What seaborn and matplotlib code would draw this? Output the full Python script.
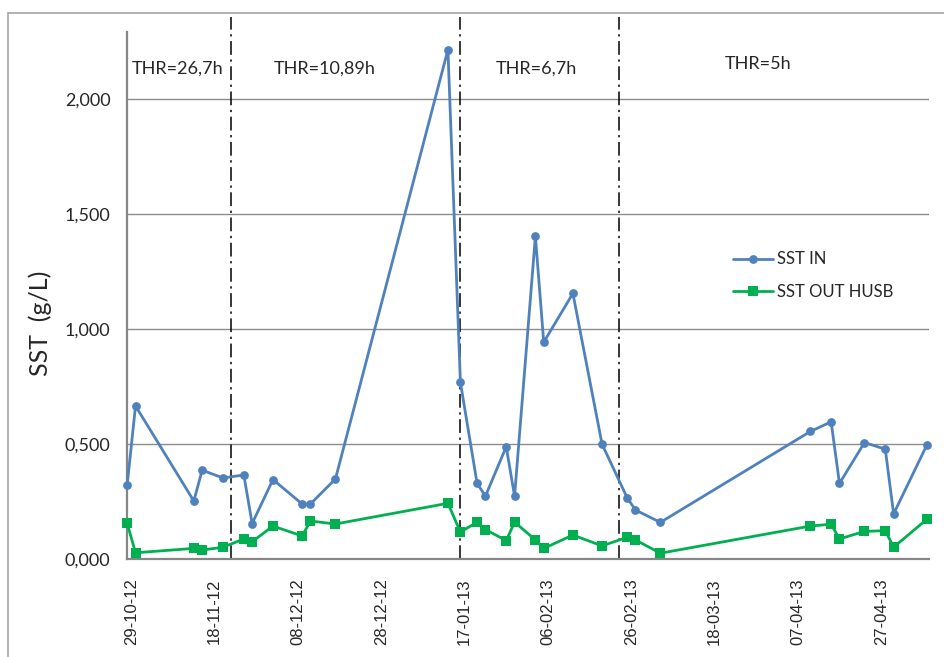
import matplotlib
matplotlib.use("Agg")
import matplotlib.pyplot as plt
import matplotlib.dates as mdates
from matplotlib.ticker import FuncFormatter
import seaborn as sns
import pandas as pd

# Sampling dates shared by both series
dates = [
    "2012-10-28", "2012-10-30", "2012-11-13", "2012-11-15", "2012-11-20",
    "2012-11-25", "2012-11-27", "2012-12-02", "2012-12-09", "2012-12-11",
    "2012-12-17", "2013-01-13", "2013-01-16", "2013-01-20", "2013-01-22",
    "2013-01-27", "2013-01-29", "2013-02-03", "2013-02-05", "2013-02-12",
    "2013-02-19", "2013-02-25", "2013-02-27", "2013-03-05", "2013-04-10",
    "2013-04-15", "2013-04-17", "2013-04-23", "2013-04-28", "2013-04-30",
    "2013-05-08",
]

# Suspended solids (g/L)
sst_in = [
    0.322, 0.665, 0.252, 0.386, 0.352, 0.365, 0.154, 0.345, 0.239, 0.239,
    0.348, 2.213, 0.767, 0.329, 0.273, 0.488, 0.273, 1.402, 0.942, 1.154,
    0.499, 0.267, 0.213, 0.159, 0.554, 0.596, 0.328, 0.506, 0.477, 0.196,
    0.496,
]
sst_out = [
    0.155, 0.027, 0.046, 0.039, 0.051, 0.087, 0.075, 0.143, 0.100, 0.165,
    0.152, 0.242, 0.117, 0.160, 0.128, 0.080, 0.160, 0.083, 0.046, 0.104,
    0.057, 0.094, 0.083, 0.025, 0.143, 0.151, 0.087, 0.120, 0.123, 0.051,
    0.173,
]

series_names = ["SST IN", "SST OUT HUSB"]

# Hydraulic retention time periods
period_bounds = ["2012-11-22", "2013-01-16", "2013-02-23"]
period_labels = ["THR=26,7h", "THR=10,89h", "THR=6,7h", "THR=5h"]
period_label_dates = ["2012-11-09", "2012-12-14 10:00", "2013-02-03 05:00", "2013-03-28 12:00"]
period_label_y = [2.13, 2.13, 2.13, 2.15]

x_ticks = pd.date_range("2012-10-29", periods=10, freq="20D")
y_ticks = [0.0, 0.5, 1.0, 1.5, 2.0]

df = pd.DataFrame({
    "date": pd.to_datetime(dates * 2),
    "value": sst_in + sst_out,
    "series": [series_names[0]] * len(sst_in) + [series_names[1]] * len(sst_out),
})

sns.set_style("white")
plt.rcParams["font.family"] = ["Lato", "DejaVu Sans"]

fig = plt.figure(figsize=(9.45, 6.57), dpi=100)
ax = fig.add_axes([0.1344, 0.1492, 0.8487, 0.8021])

blue = "#4F81BD"
green = "#00B050"

sns.lineplot(data=df[df.series == series_names[0]], x="date", y="value",
             color=blue, marker="o", markersize=6.3, markeredgewidth=0,
             linewidth=2.0, label=series_names[0], ax=ax, clip_on=False)
sns.lineplot(data=df[df.series == series_names[1]], x="date", y="value",
             color=green, marker="s", markersize=7.3, markeredgewidth=0,
             linewidth=2.0, label=series_names[1], ax=ax, clip_on=False)

ax.set_xlim(pd.Timestamp("2012-10-27 23:00"), pd.Timestamp("2013-05-08 12:00"))
ax.set_ylim(0, 2.29)

ax.set_yticks(y_ticks)
ax.yaxis.set_major_formatter(FuncFormatter(lambda v, p: f"{v:.3f}".replace(".", ",")))
ax.set_xticks(x_ticks)
ax.xaxis.set_major_formatter(mdates.DateFormatter("%d-%m-%y"))
for lbl in ax.get_xticklabels():
    lbl.set_rotation(90)
    lbl.set_fontfamily("Liberation Sans")
    lbl.set_fontsize(12)
ax.tick_params(axis="x", length=0, pad=14)
ax.tick_params(axis="y", length=0, pad=12, labelsize=13)

ax.grid(axis="y", color="#8c8c8c", linewidth=1)
ax.set_axisbelow(True)
for side in ["top", "right"]:
    ax.spines[side].set_visible(False)
for side in ["left", "bottom"]:
    ax.spines[side].set_color("#868686")
    ax.spines[side].set_linewidth(1.6)
    ax.spines[side].set_zorder(1)

ax.set_xlabel("")
ax.set_ylabel("SST  (g/L)", fontsize=18)
ax.yaxis.set_label_coords(-0.094, 0.447)

for b in period_bounds:
    ax.axvline(pd.Timestamp(b), ymin=0, ymax=1.028, color="black",
               linestyle=(0, (9, 3, 1.5, 3)), linewidth=1.1, clip_on=False, zorder=1)

for lab, d, y in zip(period_labels, period_label_dates, period_label_y):
    ax.text(pd.Timestamp(d), y, lab, ha="center", va="center", fontsize=13)

leg = ax.legend(loc="upper left", bbox_to_anchor=(0.737, 0.612), frameon=False,
                fontsize=12, handlelength=2.4, labelspacing=1.0, handletextpad=0.25)

# outer chart frame
fig.add_artist(plt.Line2D([8 / 945, 1.0], [1 - 13 / 657, 1 - 13 / 657],
                          transform=fig.transFigure, color="#a6a6a6", linewidth=1.2))
fig.add_artist(plt.Line2D([8 / 945, 8 / 945], [0.0, 1 - 13 / 657],
                          transform=fig.transFigure, color="#a6a6a6", linewidth=1.2))

fig.savefig("out.png", dpi=100)
